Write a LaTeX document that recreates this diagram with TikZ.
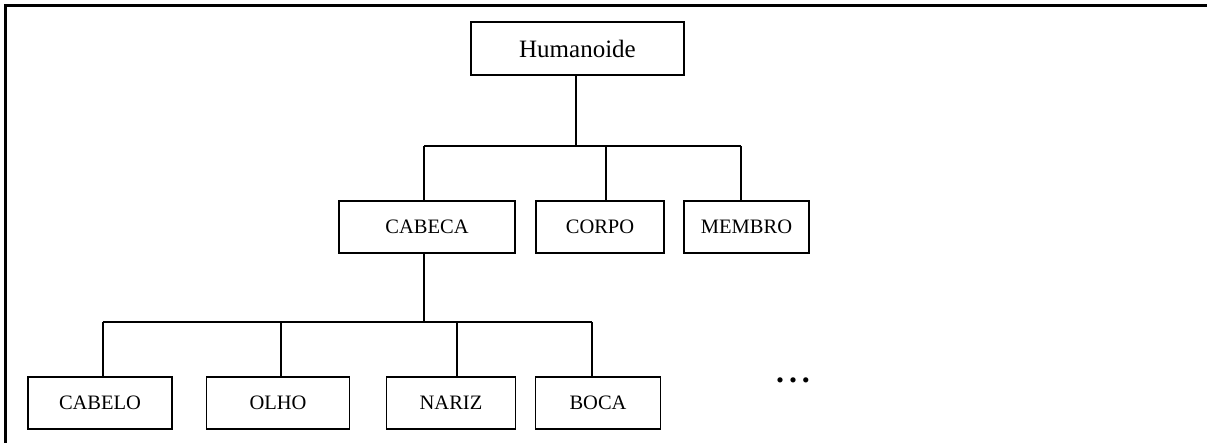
\documentclass[tikz,border=0pt]{standalone}
\usepackage{fontspec}
\setmainfont{Liberation Serif}
\begin{document}
\begin{tikzpicture}[x=1pt,y=-1pt,
  box/.style={draw,line width=1.8pt,inner sep=0pt,minimum height=52pt,font=\fontsize{20.5}{24}\selectfont},
  link/.style={line width=2pt}]
\useasboundingbox (0,0) rectangle (1207,443);
% frame (top and left edges only)
\draw[line width=2.2pt] (5.5,443) -- (5.5,5.5) -- (1207,5.5);
% nodes
\node[box,minimum width=213pt,minimum height=53pt,font=\fontsize{25}{30}\selectfont] (H) at (577.5,48.5) {Humanoide};
\node[box,minimum width=176pt] (CAB) at (427,227) {CABECA};
\node[box,minimum width=128pt] (COR) at (600,227) {CORPO};
\node[box,minimum width=125pt] (MEM) at (746.5,227) {MEMBRO};
\node[box,minimum width=144pt] (CBL) at (100,403) {CABELO};
\node[box,minimum width=143pt] (OLH) at (278,403) {OLHO};
\node[box,minimum width=129pt] (NAR) at (451,403) {NARIZ};
\node[box,minimum width=125pt] (BOC) at (598,403) {BOCA};
\node[font=\bfseries\fontsize{32}{36}\selectfont,inner sep=0pt] (dots) at (793,380) {.\kern5pt.\kern5pt.};
% bar coordinates
\coordinate (b1) at (0,146);
\coordinate (b2) at (0,322);
% level 1 connectors
\draw[link] ([xshift=-1.5pt]H.south) -- ([xshift=-1.5pt]H.south |- b1);
\draw[link] ([xshift=-3pt]CAB.north |- b1) -- ([xshift=-6pt]MEM.north |- b1);
\draw[link] ([xshift=-3pt]CAB.north |- b1) -- ([xshift=-3pt]CAB.north);
\draw[link] ([xshift=5.5pt]COR.north |- b1) -- ([xshift=5.5pt]COR.north);
\draw[link] ([xshift=-6pt]MEM.north |- b1) -- ([xshift=-6pt]MEM.north);
% level 2 connectors
\draw[link] ([xshift=-3pt]CAB.south) -- ([xshift=-3pt]CAB.south |- b2);
\draw[link] ([xshift=2.7pt]CBL.north |- b2) -- ([xshift=-5.6pt]BOC.north |- b2);
\draw[link] ([xshift=2.7pt]CBL.north |- b2) -- ([xshift=2.7pt]CBL.north);
\draw[link] ([xshift=3pt]OLH.north |- b2) -- ([xshift=3pt]OLH.north);
\draw[link] ([xshift=5.7pt]NAR.north |- b2) -- ([xshift=5.7pt]NAR.north);
\draw[link] ([xshift=-5.6pt]BOC.north |- b2) -- ([xshift=-5.6pt]BOC.north);
\end{tikzpicture}
\end{document}
